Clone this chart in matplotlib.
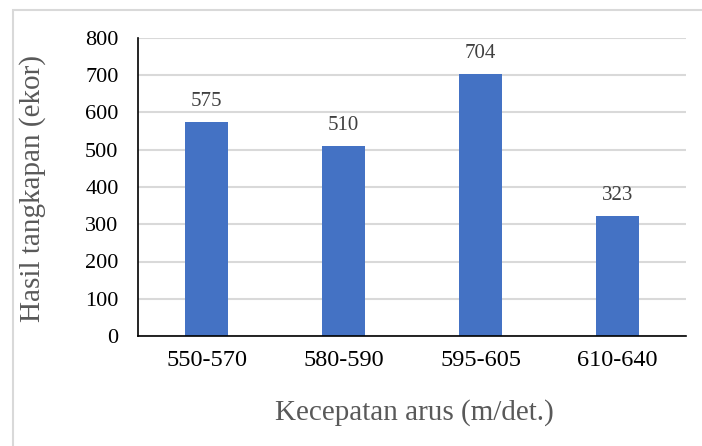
import matplotlib.pyplot as plt
from matplotlib.patches import Rectangle

categories = ["550-570", "580-590", "595-605", "610-640"]
catches = [575, 510, 704, 323]
y_ticks = [0, 100, 200, 300, 400, 500, 600, 700, 800]

plt.rcParams["font.family"] = ["Liberation Serif", "DejaVu Serif"]

fig = plt.figure(figsize=(7.02, 4.46), dpi=100)
W, H = 702, 446
ax = fig.add_axes([138 / W, 1 - 336 / H, 548 / W, 298 / H])

# light frame around the chart area
fig.patches.append(Rectangle((13 / W, -0.05), 1.1, 1 - 10 / H + 0.05,
                             transform=fig.transFigure, fill=False,
                             edgecolor="#d9d9d9", linewidth=1.5))

x = range(len(categories))
bars = ax.bar(x, catches, width=0.315, color="#4472c4", zorder=3)
for b, v in zip(bars, catches):
    ax.annotate(str(v), (b.get_x() + b.get_width() / 2, v),
                xytext=(0, 8), textcoords="offset points",
                ha="center", va="bottom", fontsize=15, color="#404040")

ax.set_xlim(-0.5, len(categories) - 0.5)
ax.set_ylim(0, 800)
ax.set_yticks(y_ticks)
ax.set_xticks(list(x))
ax.set_xticklabels(categories)
ax.tick_params(axis="both", length=0, colors="black")
ax.tick_params(axis="x", pad=10, labelsize=17.5)
ax.tick_params(axis="y", pad=14, labelsize=16)
ax.grid(axis="y", color="#d9d9d9", linewidth=1.5, zorder=0)

for side in ("top", "right"):
    ax.spines[side].set_visible(False)
for side in ("left", "bottom"):
    ax.spines[side].set_color("black")
    ax.spines[side].set_linewidth(1.2)
    ax.spines[side].set_zorder(4)

fig.text(414 / W, 1 - 413 / H, "Kecepatan arus (m/det.)", ha="center",
         va="center", fontsize=21, color="#595959")
fig.text(33 / W, 1 - 189 / H, "Hasil tangkapan (ekor)", ha="center",
         va="center", rotation=90, fontsize=21, color="#595959")

fig.savefig("out.png", dpi=100)
